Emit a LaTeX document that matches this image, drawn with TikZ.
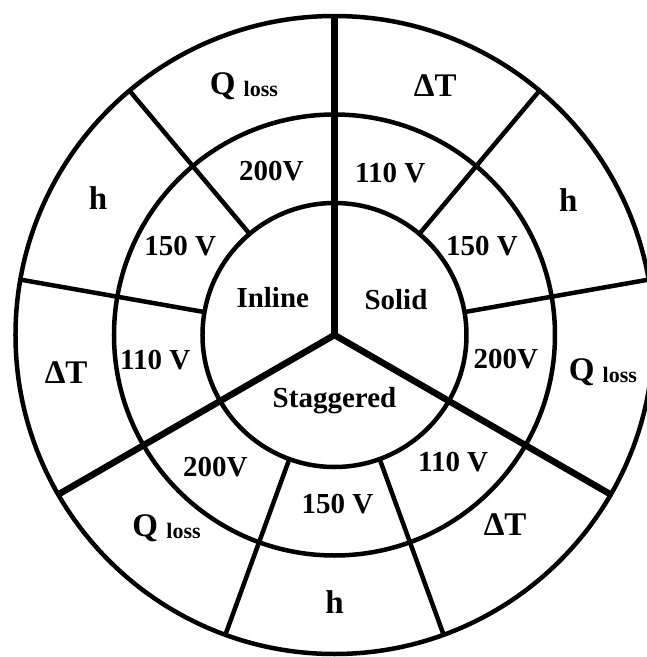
\documentclass[tikz,border=0pt]{standalone}
\usepackage{fontspec}
\setmainfont{Liberation Serif}
\usepackage{tikz}

\newcommand{\qloss}{Q \raisebox{-2pt}{\fontsize{22}{22}\selectfont loss}}

\begin{document}
\begin{tikzpicture}[
    x=1pt, y=1pt,
    ring/.style={line width=4.5pt},
    spoke/.style={line width=4.5pt},
    mainspoke/.style={line width=6.5pt},
    txt/.style={font=\fontsize{29}{29}\selectfont\bfseries, inner sep=0pt},
    outtxt/.style={font=\fontsize{33}{33}\selectfont\bfseries, inner sep=0pt}
]

\useasboundingbox (-334.5,-322) rectangle (312.5,335);

% Rings
\coordinate (c) at (0,0);
\draw[ring] (c) circle (132pt);
\draw[ring] (c) circle (220.5pt);
\draw[ring] (c) circle (319pt);

% Main spokes (arrangements)
\draw[mainspoke] (c) -- (90:319pt);
\draw[mainspoke] (c) -- (210:319pt);
\draw[mainspoke] (c) -- (330:319pt);

% Spokes between voltages
\draw[spoke] (130:132pt) -- (130:319pt);
\draw[spoke] (170:132pt) -- (170:319pt);
\draw[spoke] (250:132pt) -- (250:319pt);
\draw[spoke] (290:132pt) -- (290:319pt);
\draw[spoke] (10:132pt) -- (10:319pt);
\draw[spoke] (50:132pt) -- (50:319pt);

% Inner labels
\node[txt] (inline) at (149:72pt) {Inline};
\node[txt] (solid) at (30:71pt) {Solid};
\node[txt] (stag) at (270:66pt) {Staggered};

% Voltages
\node[txt] (vInA) at (111:176pt) {200V};
\node[txt] (vInB) at (150:178pt) {150 V};
\node[txt] (vInC) at (188:181pt) {110 V};
\node[txt] (vSoA) at (71:171pt) {110 V};
\node[txt] (vSoB) at (31:172pt) {150 V};
\node[txt] (vSoC) at (352:173pt) {200V};
\node[txt] (vStA) at (228:178pt) {200V};
\node[txt] (vStB) at (271:169pt) {150 V};
\node[txt] (vStC) at (313:174pt) {110 V};

% Outputs
\node[outtxt] (qInA) at (110:265pt) {\qloss};
\node[outtxt] (hInB) at (150:273pt) {h};
\node[outtxt] (dtInC) at (188:271pt) {ΔT};
\node[outtxt] (dtSoA) at (68:269pt) {ΔT};
\node[outtxt] (hSoB) at (30:270pt) {h};
\node[outtxt] (qSoC) at (352:271pt) {\qloss};
\node[outtxt] (qStA) at (229:256pt) {\qloss};
\node[outtxt] (hStB) at (270:267pt) {h};
\node[outtxt] (dtStC) at (312:255pt) {ΔT};

\end{tikzpicture}
\end{document}
